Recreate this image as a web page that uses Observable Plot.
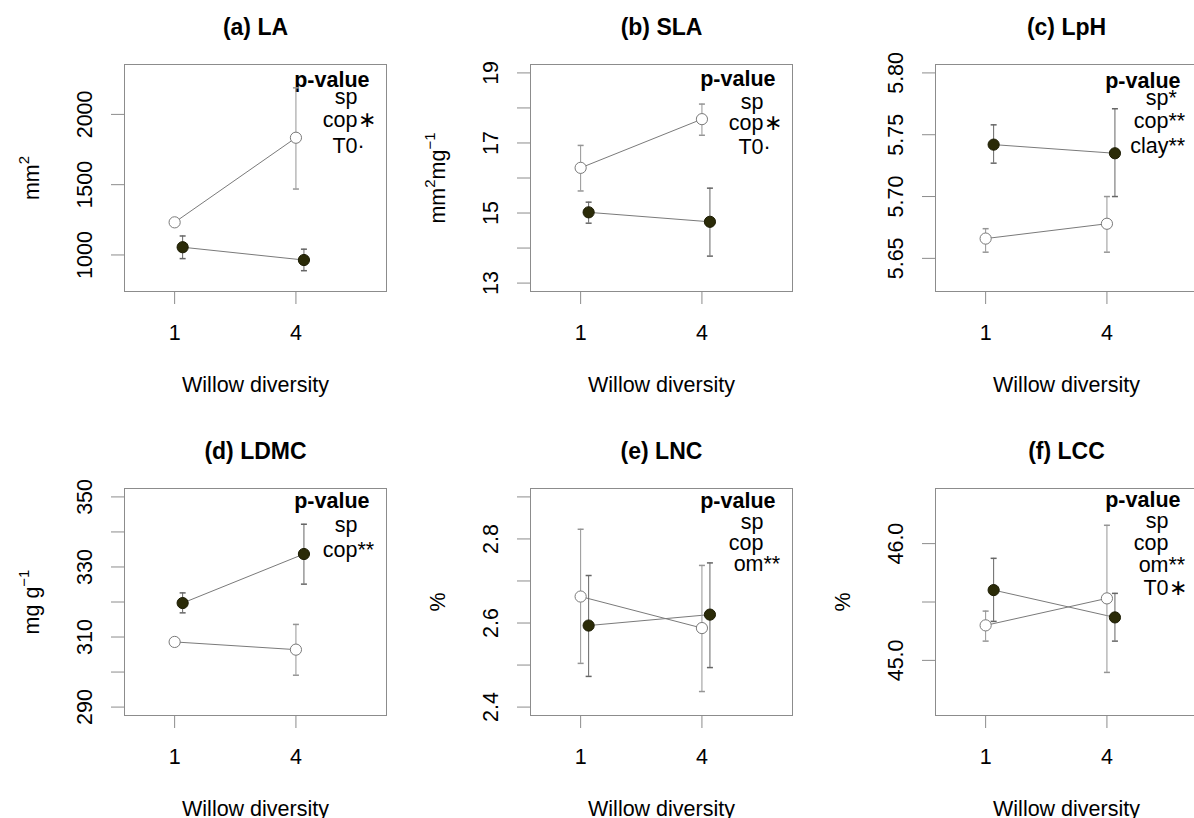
<!DOCTYPE html>
<html>
<head>
<meta charset="utf-8">
<script src="https://cdn.jsdelivr.net/npm/d3@7"></script>
<script src="https://cdn.jsdelivr.net/npm/@observablehq/plot@0.6"></script>
<style>
  html, body { margin: 0; padding: 0; background: #fff; }
  #fig { position: relative; width: 1194px; height: 818px; overflow: hidden; background: #fff; }
  #fig > svg { position: absolute; overflow: visible; }
</style>
</head>
<body>
<div id="fig"></div>
<script>
// ---------------- DATA ----------------
const diversity = [1, 4];
const xTickLabels = ["1", "4"];
const xTitle = "Willow diversity";

const panelTitles = ["(a) LA", "(b) SLA", "(c) LpH", "(d) LDMC", "(e) LNC", "(f) LCC"];
const yTitles = ["mm\u00B2", "mm\u00B2mg\u207B\u00B9", "", "mg g\u207B\u00B9", "%", "%"];

// open (white) circles: mean and error-bar ends at diversity 1 and 4
const openMean = [[1232, 1834], [16.29, 17.68], [5.666, 5.678], [308.6, 306.4], [2.663, 2.588], [45.300, 45.531]];
const openLo   = [[1215, 1469], [15.63, 17.22], [5.655, 5.655], [307.4, 299.1], [2.504, 2.437], [45.165, 44.897]];
const openHi   = [[1249, 2189], [16.93, 18.11], [5.674, 5.700], [309.8, 313.6], [2.823, 2.737], [45.422, 46.157]];

// filled (dark) circles
const filledMean = [[1055, 964], [15.02, 14.75], [5.742, 5.735], [319.7, 333.7], [2.594, 2.620], [45.602, 45.368]];
const filledLo   = [[974, 888], [14.71, 13.77], [5.727, 5.700], [316.9, 325.1], [2.473, 2.494], [45.334, 45.165]];
const filledHi   = [[1135, 1041], [15.31, 15.71], [5.758, 5.771], [322.6, 342.2], [2.713, 2.743], [45.874, 45.574]];

// y axes
const yDomains = [[740, 2355], [12.76, 19.24], [5.6232, 5.8068], [287.6, 352.4], [2.38, 2.92], [44.528, 46.472]];
const yTickValues = [
  [1000, 1500, 2000],
  [13, 14, 15, 16, 17, 18, 19],
  [5.65, 5.70, 5.75, 5.80],
  [290, 300, 310, 320, 330, 340, 350],
  [2.4, 2.5, 2.6, 2.7, 2.8, 2.9],
  [45.0, 45.5, 46.0]
];
const yTickLabels = [
  ["1000", "1500", "2000"],
  ["13", "15", "17", "19"],
  ["5.65", "5.70", "5.75", "5.80"],
  ["290", "310", "330", "350"],
  ["2.4", "2.6", "2.8"],
  ["45.0", "46.0"]
];

// p-value annotations: [term, significance symbol]
const pHeader = "p-value";
const pTerms = [
  [["sp", ""], ["cop", "\u2217"], ["T0", "\u00B7"]],
  [["sp", ""], ["cop", "\u2217"], ["T0", "\u00B7"]],
  [["sp", "*"], ["cop", "**"], ["clay", "**"]],
  [["sp", ""], ["cop", "**"]],
  [["sp", ""], ["cop", ""], ["om", "**"]],
  [["sp", ""], ["cop", ""], ["om", "**"], ["T0", "\u2217"]]
];

// ---------------- LAYOUT / STYLE ----------------
const FONT = "'Liberation Sans', Arial, Helvetica, sans-serif";
const FS = 21.5;
const BOX = "#8c8c8c", LINE = "#7a7a7a", ERR_OPEN = "#959595", ERR_FILLED = "#666666";
const DARK = "#2b2b08", DARK_STROKE = "#1c1c04";
const colX = [0, 406, 811], rowY = [0, 424];
// baselines of annotation lines, px below the top of the box
const annBase = [[22.4, 39, 62.4, 88], [21.7, 44, 65, 89.4], [23, 40, 63.5, 88.5], [19, 43.4, 68.4], [19, 40, 61.7, 82.4], [18.3, 39.3, 61, 83.7, 106]];
const DODGE = 8;
const capSymbol = { draw(ctx) { ctx.moveTo(-3, 0); ctx.lineTo(3, 0); } };
const SUP = { "\u00B2": "2", "\u00B9": "1", "\u207B": "\u2212" };

// turn unicode superscripts of a text element into raised, smaller tspans
function superscriptify(textEl) {
  const s = textEl.textContent;
  if (!/[\u00B2\u00B9\u207B]/.test(s)) return;
  const runs = [];
  for (const ch of s) {
    const sup = ch in SUP;
    if (runs.length && runs[runs.length - 1].sup === sup) runs[runs.length - 1].t += sup ? SUP[ch] : ch;
    else runs.push({ sup, t: sup ? SUP[ch] : ch });
  }
  while (textEl.firstChild) textEl.removeChild(textEl.firstChild);
  const ns = "http://www.w3.org/2000/svg";
  let raised = false;
  runs.forEach(r => {
    const ts = document.createElementNS(ns, "tspan");
    ts.textContent = r.t;
    if (r.sup) { ts.setAttribute("font-size", "15"); ts.setAttribute("dy", "-10"); raised = true; }
    else if (raised) { ts.setAttribute("dy", "10"); raised = false; }
    textEl.appendChild(ts);
  });
}

const fig = document.getElementById("fig");

panelTitles.forEach((title, i) => {
  const open = diversity.map((d, j) => ({ div: d, mean: openMean[i][j], lo: openLo[i][j], hi: openHi[i][j] }));
  const filled = diversity.map((d, j) => ({ div: d, mean: filledMean[i][j], lo: filledLo[i][j], hi: filledHi[i][j] }));

  const annMarks = [
    Plot.text([pHeader], { frameAnchor: "top-right", dx: -17, dy: annBase[i][0], lineAnchor: "bottom", textAnchor: "end", fontWeight: "bold", fontSize: FS })
  ];
  pTerms[i].forEach(([term, sym], k) => {
    annMarks.push(Plot.text([term], { frameAnchor: "top-right", dx: -29, dy: annBase[i][k + 1], lineAnchor: "bottom", textAnchor: "end", fontSize: FS }));
    if (sym) annMarks.push(Plot.text([sym], { frameAnchor: "top-right", dx: -29, dy: annBase[i][k + 1], lineAnchor: "bottom", textAnchor: "start", fontSize: FS }));
  });

  const chart = Plot.plot({
    width: 406,
    height: 424,
    marginLeft: 124,
    marginRight: 20,
    marginTop: 64,
    marginBottom: 133,
    style: { fontFamily: FONT, background: "transparent", overflow: "visible" },
    x: { domain: [-0.24, 6.24], label: null },
    y: { domain: yDomains[i], label: null },
    marks: [
      Plot.frame({ stroke: BOX }),
      Plot.axisY(yTickValues[i], { anchor: "left", tickSize: 13, stroke: BOX, fill: "none", label: null }),
      Plot.axisX(diversity, { anchor: "bottom", tickSize: 12, stroke: BOX, fill: "none", label: null, dy: 1 }),
      Plot.text(yTickLabels[i], { y: d => +d, text: d => d, frameAnchor: "left", dx: -39, rotate: -90, textAnchor: "middle", lineAnchor: "middle", fontSize: FS }),
      Plot.text(xTickLabels, { x: d => +d, text: d => d, frameAnchor: "bottom", dy: 48, lineAnchor: "bottom", fontSize: FS }),
      Plot.text([xTitle], { frameAnchor: "bottom", dy: 100.5, lineAnchor: "bottom", fontSize: FS }),
      Plot.text([yTitles[i]], { frameAnchor: "left", dx: -92, rotate: -90, textAnchor: "middle", lineAnchor: "middle", fontSize: FS }),
      Plot.text([title], { frameAnchor: "top", dy: -29.5, lineAnchor: "bottom", fontWeight: "bold", fontSize: 23 }),
      ...annMarks,
      Plot.line(open, { x: "div", y: "mean", stroke: LINE, strokeWidth: 1 }),
      Plot.line(filled, { x: "div", y: "mean", stroke: LINE, strokeWidth: 1, dx: DODGE }),
      Plot.ruleX(open, { x: "div", y1: "lo", y2: "hi", stroke: ERR_OPEN }),
      Plot.ruleX(filled, { x: "div", y1: "lo", y2: "hi", stroke: ERR_FILLED, dx: DODGE }),
      Plot.dot(open, { x: "div", y: "lo", symbol: capSymbol, fill: "none", stroke: ERR_OPEN }),
      Plot.dot(open, { x: "div", y: "hi", symbol: capSymbol, fill: "none", stroke: ERR_OPEN }),
      Plot.dot(filled, { x: "div", y: "lo", symbol: capSymbol, fill: "none", stroke: ERR_FILLED, dx: DODGE }),
      Plot.dot(filled, { x: "div", y: "hi", symbol: capSymbol, fill: "none", stroke: ERR_FILLED, dx: DODGE }),
      Plot.dot(open, { x: "div", y: "mean", r: 5.6, fill: "white", stroke: LINE, strokeWidth: 1 }),
      Plot.dot(filled, { x: "div", y: "mean", r: 5.6, fill: DARK, stroke: DARK_STROKE, strokeWidth: 1, dx: DODGE })
    ]
  });
  chart.querySelectorAll("text").forEach(superscriptify);
  chart.style.left = colX[i % 3] + "px";
  chart.style.top = rowY[Math.floor(i / 3)] + "px";
  fig.appendChild(chart);
});
</script>
</body>
</html>
